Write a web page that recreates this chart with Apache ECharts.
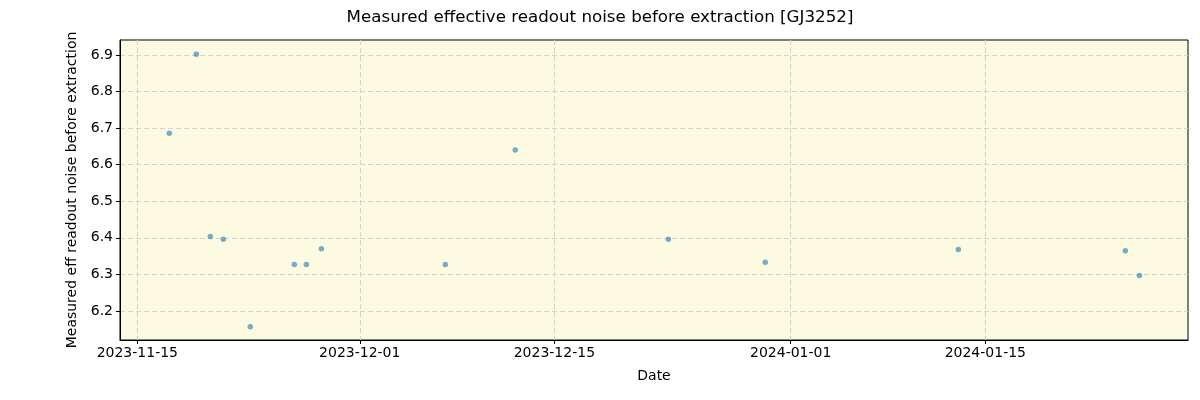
<!DOCTYPE html>
<html>
<head>
<meta charset="utf-8">
<script src="https://cdn.jsdelivr.net/npm/echarts@6/dist/echarts.min.js"></script>
<style>
  html, body { margin: 0; padding: 0; background: #fff; }
  #main { width: 1200px; height: 400px; }
</style>
</head>
<body>
<div id="main"></div>
<script>
// observation times and measured noise values
var dates = [
	'2023-11-17T07:12', '2023-11-19T05:46', '2023-11-20T06:00', '2023-11-21T04:30',
	'2023-11-23T03:00', '2023-11-26T07:00', '2023-11-27T03:50', '2023-11-28T05:45',
	'2023-12-07T03:50', '2023-12-12T04:30', '2023-12-23T04:45', '2023-12-30T04:05',
	'2024-01-13T01:25', '2024-01-25T01:40', '2024-01-26T01:55'
];
var noise = [
	6.686, 6.902, 6.404, 6.396,
	6.157, 6.327, 6.327, 6.370,
	6.327, 6.640, 6.396, 6.333,
	6.368, 6.365, 6.297
];
var xTicks = ['2023-11-15', '2023-12-01', '2023-12-15', '2024-01-01', '2024-01-15'];
var yTicks = [6.2, 6.3, 6.4, 6.5, 6.6, 6.7, 6.8, 6.9];

var ts = function (s) { return new Date(s + (s.length === 10 ? 'T00:00:00Z' : ':00Z')).getTime(); };
var pad = function (n) { return n < 10 ? '0' + n : '' + n; };
var fmtDate = function (v) {
	var d = new Date(v);
	return d.getUTCFullYear() + '-' + pad(d.getUTCMonth() + 1) + '-' + pad(d.getUTCDate());
};

var points = [];
for (var i = 0; i < dates.length; i++) {
	points.push([ts(dates[i]), noise[i]]);
}
var xTickValues = xTicks.map(ts);

var font = 'DejaVu Sans';
var myChart = echarts.init(document.getElementById('main'));
var option = {
	animation: false,
	title: {
		text: 'Measured effective readout noise before extraction [GJ3252]',
		left: 'center',
		top: 4,
		textStyle: { fontFamily: font, fontSize: 16.7, fontWeight: 'normal', color: '#000' }
	},
	grid: {
		left: 120, right: 12, top: 40, bottom: 60,
		show: true,
		backgroundColor: '#fcfbe2',
		borderColor: '#000',
		borderWidth: 1
	},
	xAxis: {
		type: 'value',
		min: ts('2023-11-13T18:05'),
		max: ts('2024-01-29T13:55'),
		name: 'Date',
		nameLocation: 'middle',
		nameGap: 29,
		nameTextStyle: { fontFamily: font, fontSize: 14, color: '#000' },
		axisLine: { show: true, onZero: false, lineStyle: { color: '#000' } },
		axisTick: { show: true, length: 4, customValues: xTickValues, lineStyle: { color: '#000' } },
		axisLabel: {
			customValues: xTickValues,
			formatter: fmtDate,
			fontFamily: font, fontSize: 14, color: '#000', margin: 6
		},
		splitLine: { show: true, lineStyle: { color: '#d3d3d3', type: [5, 3] } }
	},
	yAxis: {
		type: 'value',
		min: 6.1207,
		max: 6.941,
		name: 'Measured eff readout noise before extraction',
		nameLocation: 'middle',
		nameGap: 35,
		nameTextStyle: { fontFamily: font, fontSize: 14, color: '#000' },
		axisLine: { show: true, onZero: false, lineStyle: { color: '#000' } },
		axisTick: { show: true, length: 4, customValues: yTicks, lineStyle: { color: '#000' } },
		axisLabel: {
			customValues: yTicks,
			formatter: function (v) { return v.toFixed(1); },
			fontFamily: font, fontSize: 14, color: '#000', margin: 7
		},
		splitLine: { show: true, lineStyle: { color: '#d3d3d3', type: [5, 3] } }
	},
	series: [{
		type: 'scatter',
		data: points,
		symbolSize: 5.5,
		itemStyle: { color: '#1f77b4', opacity: 0.6 }
	}]
};
myChart.setOption(option);
</script>
</body>
</html>
